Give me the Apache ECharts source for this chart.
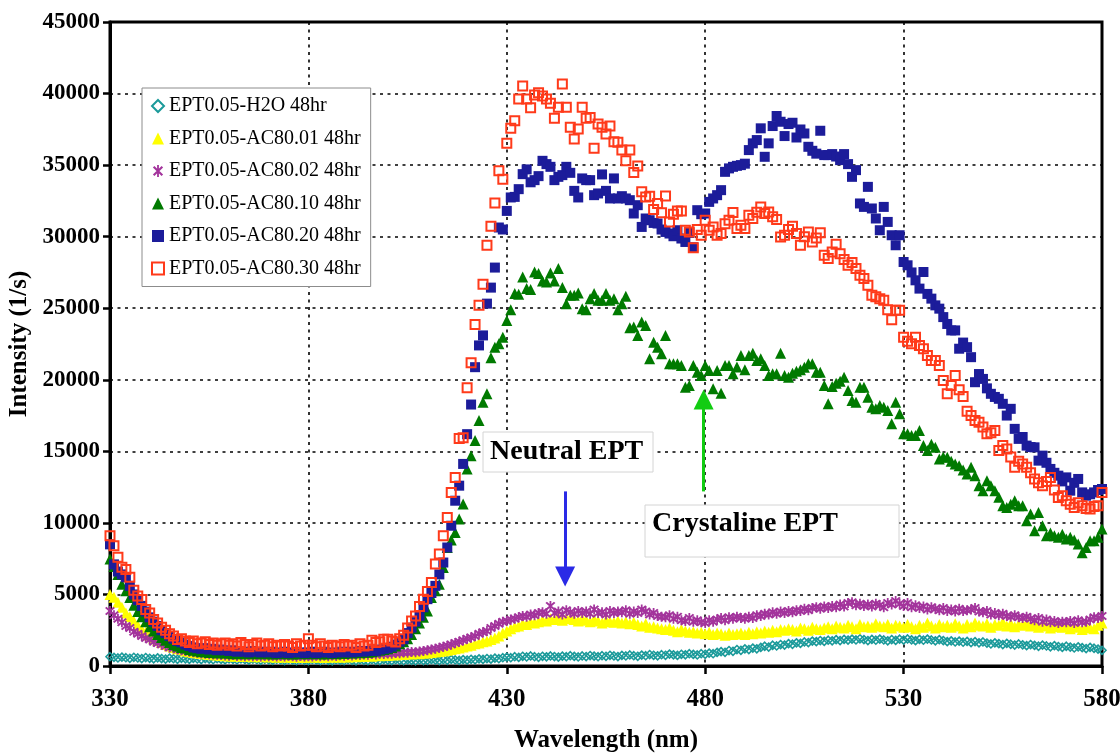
<!DOCTYPE html>
<html>
<head>
<meta charset="utf-8">
<script src="https://cdn.jsdelivr.net/npm/echarts@6/dist/echarts.min.js"></script>
<style>
  html, body { margin: 0; padding: 0; background: #fff; }
  #chart { width: 1120px; height: 754px; }
</style>
</head>
<body>
<div id="chart"></div>
<script>
// Emission spectra, sampled every 1 nm from 330 nm to 580 nm.
const WL_START = 330;
const WL_STEP = 1;

const seriesNames = [
  'EPT0.05-H2O 48hr',
  'EPT0.05-AC80.01 48hr',
  'EPT0.05-AC80.02 48hr',
  'EPT0.05-AC80.10 48hr',
  'EPT0.05-AC80.20 48hr',
  'EPT0.05-AC80.30 48hr'
];

const h2o = [
  650, 600, 560, 620, 580, 540, 610, 560, 520, 590,
  540, 500, 570, 520, 480, 550, 510, 470, 540, 500,
  460, 530, 490, 450, 520, 480, 440, 510, 470, 430,
  500, 460, 420, 490, 450, 410, 480, 440, 400, 470,
  430, 390, 460, 420, 380, 450, 410, 370, 440, 400,
  380, 450, 410, 370, 440, 400, 360, 430, 390, 370,
  440, 400, 360, 430, 390, 370, 440, 400, 380, 450,
  410, 380, 440, 400, 370, 430, 390, 360, 420, 380,
  400, 450, 410, 380, 440, 400, 460, 420, 390, 450,
  410, 470, 430, 500, 460, 520, 480, 550, 510, 580,
  620, 580, 650, 600, 680, 630, 700, 650, 610, 680,
  640, 700, 660, 620, 690, 650, 720, 670, 630, 700,
  660, 730, 690, 650, 720, 680, 750, 700, 660, 740,
  700, 770, 720, 680, 760, 720, 800, 750, 710, 790,
  750, 830, 780, 740, 820, 780, 860, 810, 770, 860,
  820, 900, 860, 950, 1000, 960, 1080, 1030, 1150, 1100,
  1200, 1150, 1250, 1200, 1300, 1380, 1320, 1450, 1400, 1500,
  1460, 1560, 1520, 1620, 1580, 1680, 1640, 1740, 1700, 1780,
  1720, 1800, 1760, 1840, 1780, 1860, 1810, 1880, 1820, 1900,
  1840, 1780, 1860, 1800, 1880, 1820, 1760, 1850, 1790, 1870,
  1810, 1890, 1830, 1770, 1860, 1800, 1880, 1820, 1760, 1840,
  1780, 1700, 1760, 1680, 1740, 1660, 1720, 1640, 1700, 1620,
  1680, 1600, 1540, 1620, 1560, 1500, 1580, 1520, 1460, 1540,
  1480, 1420, 1500, 1440, 1380, 1460, 1400, 1340, 1420, 1360,
  1300, 1380, 1320, 1260, 1340, 1280, 1220, 1300, 1240, 1180,
  1100
];

const ac01 = [
  5000, 4800, 4450, 4100, 3700, 3450, 3150, 2850, 2550, 2350,
  2150, 1950, 1800, 1650, 1500, 1400, 1300, 1200, 1150, 1050,
  1000, 950, 900, 870, 830, 800, 780, 760, 740, 720,
  700, 690, 720, 680, 660, 700, 650, 680, 640, 670,
  630, 660, 620, 650, 610, 640, 600, 630, 620, 600,
  640, 610, 650, 620, 600, 640, 610, 660, 620, 650,
  630, 680, 650, 700, 670, 720, 690, 740, 710, 760,
  740, 790, 770, 820, 800, 850, 830, 880, 860, 910,
  900, 950, 980, 1020, 1050, 1100, 1150, 1200, 1250, 1320,
  1400, 1450, 1550, 1600, 1700, 1750, 1850, 1950, 2100, 2300,
  2450, 2600, 2750, 2800, 2950, 2900, 3050, 3000, 3100, 3200,
  3150, 3300, 3250, 3400, 3200, 3300, 3350, 3250, 3150, 3300,
  3200, 3100, 3250, 3150, 3000, 3200, 3100, 3050, 3150, 3000,
  3100, 2950, 3050, 2900, 2800, 2950, 2700, 2750, 2650, 2600,
  2550, 2650, 2500, 2400, 2550, 2450, 2350, 2400, 2300, 2350,
  2250, 2350, 2200, 2300, 2250, 2150, 2300, 2200, 2250, 2300,
  2200, 2350, 2250, 2400, 2300, 2450, 2350, 2500, 2400, 2550,
  2500, 2600, 2550, 2450, 2650, 2600, 2500, 2700, 2600, 2550,
  2650, 2750, 2600, 2800, 2700, 2650, 2850, 2750, 2600, 2900,
  2750, 2800, 2700, 2950, 2800, 2750, 2900, 2650, 2850, 2800,
  2700, 2900, 2750, 2600, 2850, 2700, 3000, 2800, 2650, 2900,
  2750, 2850, 2700, 2950, 2800, 2650, 2900, 2750, 3000, 2850,
  2800, 2950, 2700, 2900, 2850, 3050, 2800, 2950, 2750, 2900,
  2850, 3000, 2800, 2950, 2700, 2900, 2800, 2650, 2850, 2750,
  2700, 2850, 2600, 2800, 2700, 2550, 2750, 2650, 2600, 2850,
  3000
];

const ac02 = [
  3850, 3550, 3300, 3050, 2800, 2650, 2400, 2250, 2100, 1950,
  1850, 1700, 1600, 1500, 1400, 1300, 1250, 1150, 1100, 1050,
  1000, 960, 920, 880, 850, 820, 800, 780, 760, 740,
  720, 760, 700, 740, 690, 730, 680, 720, 670, 710,
  680, 720, 670, 700, 660, 710, 680, 650, 700, 670,
  690, 660, 710, 680, 730, 690, 740, 700, 750, 720,
  770, 740, 790, 760, 810, 780, 840, 810, 860, 840,
  880, 860, 910, 890, 940, 920, 980, 960, 1010, 1050,
  1100, 1150, 1200, 1280, 1350, 1420, 1500, 1600, 1700, 1800,
  1900, 2000, 2100, 2250, 2350, 2450, 2650, 2800, 2950, 3100,
  3150, 3250, 3300, 3400, 3500, 3450, 3600, 3550, 3700, 3750,
  3650, 4200, 3700, 3800, 3600, 3900, 3750, 3650, 3850, 3700,
  3800, 3650, 3950, 3700, 3750, 3600, 3850, 3700, 3800, 3750,
  3900, 3650, 3800, 3700, 3950, 3800, 3600, 3700, 3500, 3450,
  3400, 3550, 3300, 3450, 3200, 3150, 3350, 3100, 3200, 3050,
  3000, 3200, 3100, 3250, 3350, 3200, 3400, 3300, 3450, 3350,
  3300, 3450, 3350, 3550, 3500, 3650, 3600, 3750, 3650, 3800,
  3700, 3850, 3750, 3900, 3850, 4000, 3900, 4050, 4100, 4000,
  4150, 4050, 4200, 4100, 4300, 4150, 4400, 4450, 4250, 4350,
  4200, 4300, 4150, 4350, 4250, 4100, 4400, 4300, 4550, 4350,
  4200, 4400, 4100, 4250, 4050, 4150, 3950, 4100, 4000, 3900,
  4050, 3850, 3950, 3800, 4000, 3850, 3900, 3950, 4050, 3800,
  3750, 3850, 3600, 3700, 3550, 3650, 3500, 3450, 3550, 3400,
  3350, 3450, 3300, 3200, 3350, 3100, 3250, 3050, 3150, 3000,
  3100, 3050, 3150, 3000, 3200, 3050, 3100, 3250, 3400, 3350,
  3500
];

const ac10 = [
  7470, 6950, 6400, 5720, 5250, 4780, 4250, 3800, 3450, 3100,
  2750, 2450, 2200, 2000, 1800, 1650, 1500, 1400, 1300, 1250,
  1150, 1100, 1050, 1000, 1000, 950, 950, 900, 950, 900,
  900, 850, 900, 850, 880, 850, 900, 850, 880, 850,
  870, 830, 880, 850, 900, 860, 830, 880, 850, 900,
  860, 900, 850, 880, 840, 900, 870, 850, 900, 880,
  920, 900, 950, 930, 980, 960, 1000, 1050, 1100, 1150,
  1200, 1300, 1400, 1550, 1700, 1900, 2200, 2600, 3000, 3400,
  3850, 4780, 5250, 5720, 6880, 8280, 8800, 9330, 10270, 11320,
  13770, 14700, 15750, 17150, 18430, 19020, 21540, 22280, 22520, 22980,
  24150, 24900, 26020, 25970, 27180, 26370, 26300, 27530, 27420, 26900,
  26830, 27460, 26900, 27770, 26440, 25320, 25900, 25900, 26060, 24970,
  24900, 25670, 26020, 25550, 25550, 26020, 25550, 25670, 24900, 25320,
  25830, 23640, 23680, 23100, 24030, 23800, 21470, 22630, 22280, 21820,
  23100, 21120, 21120, 21120, 21000, 19480, 19600, 21000, 20530, 20300,
  21000, 20650, 19370, 20650, 19060, 21000, 21000, 20420, 20900, 21700,
  20700, 21700, 21860, 21350, 21470, 21000, 20300, 20420, 20420, 21860,
  20300, 20180, 20460, 20600, 20700, 20880, 21120, 21120, 20530, 20530,
  19600, 18320, 19530, 19760, 19900, 20180, 19250, 18550, 18430, 19480,
  19480, 18780, 18080, 17970, 18200, 18080, 17850, 16920, 18430, 17620,
  16220, 16220, 16100, 16100, 16450, 15400, 15050, 15500, 15280, 14470,
  14600, 14580, 14300, 14120, 14000, 13700, 13420, 13880, 13300, 12600,
  12250, 12950, 12600, 12250, 11800, 11200, 11080, 11300, 11550, 11200,
  11200, 10150, 10620, 9450, 10730, 9800, 9100, 9300, 9100, 9000,
  9200, 8870, 9000, 8800, 8520, 7910, 8280, 8750, 8750, 9000,
  9570
];

const ac20 = [
  8500, 7100, 6600, 6400, 6200, 5600, 5000, 4600, 4200, 3800,
  3400, 3100, 2800, 2500, 2300, 2100, 1900, 1750, 1650, 1500,
  1400, 1300, 1250, 1200, 1250, 1150, 1200, 1100, 1150, 1100,
  1050, 1100, 1000, 1050, 1000, 950, 1050, 1000, 950, 1000,
  950, 1000, 900, 950, 1000, 900, 950, 1000, 950, 900,
  950, 1000, 900, 950, 1000, 950, 900, 950, 1000, 950,
  1000, 950, 1000, 1050, 1000, 1050, 1100, 1050, 1150, 1200,
  1250, 1350, 1500, 1700, 1870, 2300, 2680, 3100, 3500, 4100,
  4670, 5100, 5600, 6400, 7230, 8280, 9800, 11550, 12600, 14120,
  16200, 18270, 20880, 22400, 23100, 25320, 26440, 27840, 30640, 30500,
  31800, 32740, 32780, 33320, 34370, 34700, 33800, 33950, 34230, 35300,
  35070, 34880, 33950, 34180, 34300, 34880, 34460, 33200, 32740, 34070,
  33950, 33950, 32900, 33020, 34350, 33200, 32670, 34070, 32670, 32830,
  32670, 32550, 31620, 32200, 30680, 31270, 31150, 30960, 30920, 30500,
  30330, 30220, 30030, 30450, 29870, 29630, 30260, 29260, 31850, 31570,
  31620, 32430, 32670, 32900, 33250, 34530, 34770, 34880, 34950, 35000,
  35100, 36050, 36520, 36750, 37570, 35580, 36520, 37730, 38430, 38030,
  37030, 37870, 37960, 36930, 37490, 37210, 36280, 36000, 35800, 37400,
  35700, 35700, 35770, 35600, 35350, 35770, 35070, 34180, 34650, 32320,
  32080, 33480, 31970, 31270, 30450, 32080, 31030, 30100, 29400, 30100,
  28230, 28000, 27500, 26950, 26370, 27530, 26000, 25670, 25200, 24970,
  24380, 23900, 23450, 23450, 22170, 22600, 22280, 21580, 19830, 20400,
  20060, 19400, 19020, 18800, 18670, 18320, 17500, 17970, 16570, 15870,
  16000, 15400, 15300, 15280, 14350, 14700, 14200, 13770, 13500, 13300,
  12900, 13180, 12250, 12800, 13070, 12130, 11900, 12000, 12130, 12300,
  12370
];

const ac30 = [
  9100, 8400, 7600, 6900, 6750, 6200, 5300, 4900, 4650, 3950,
  3700, 3250, 3000, 2700, 2500, 2250, 2100, 1850, 1900, 1750,
  1650, 1750, 1550, 1600, 1700, 1500, 1600, 1450, 1550, 1600,
  1450, 1550, 1400, 1650, 1500, 1350, 1500, 1600, 1400, 1450,
  1550, 1350, 1450, 1400, 1500, 1400, 1300, 1550, 1400, 1450,
  1900, 1450, 1350, 1550, 1400, 1300, 1450, 1400, 1350, 1500,
  1400, 1450, 1300, 1550, 1400, 1450, 1800, 1650, 1700, 1870,
  1870, 1750, 1680, 1900, 2150, 2660, 3150, 3500, 4150, 4670,
  5200, 5830, 7120, 7820, 9100, 10380, 12130, 13180, 15900, 15950,
  19440, 21190, 23870, 25200, 26670, 29400, 30730, 32360, 34600, 34020,
  36520, 37570, 38100, 39620, 40530, 39620, 39010, 39900, 40060, 39830,
  39620, 39320, 38270, 39040, 40670, 39040, 37640, 36820, 37520, 39040,
  38270, 38330, 36170, 37870, 37640, 37170, 37730, 36630, 36590, 36050,
  35300, 36050, 34480, 34930, 33130, 32780, 32830, 31900, 32320, 31670,
  32850, 31030, 31570, 31800, 31800, 30450, 30330, 29230, 30500, 30100,
  31150, 30450, 30680, 30100, 30220, 30900, 31150, 31690, 30570, 30800,
  30570, 31500, 31270, 31700, 32080, 31620, 31730, 31400, 31200, 29980,
  30100, 30500, 30730, 30220, 29400, 30000, 30330, 29630, 29900, 30280,
  28700, 28470, 28930, 29470, 28800, 28400, 28000, 28200, 27770, 27300,
  27070, 26600, 25900, 25800, 25670, 25550, 24900, 24200, 24850, 24850,
  22980, 22700, 22520, 22980, 22400, 22170, 21700, 21350, 21350, 21000,
  19950, 19020, 19600, 20300, 19300, 18830, 17800, 17500, 17150, 17030,
  16700, 16220, 16300, 16450, 15050, 15400, 15170, 14600, 13880, 14300,
  14120, 13880, 13500, 13070, 12800, 12600, 12900, 13180, 12300, 11780,
  11900, 11550, 11300, 11080, 11400, 11200, 11000, 10970, 11150, 11200,
  12130
];

// Annotation arrows, in axis units: [wavelength, from intensity, to intensity]
const neutralArrow = [444.7, 12200, 6250];
const crystalArrow = [479.6, 12200, 18620];

const SERIF = '"Liberation Serif", "Times New Roman", serif';

// six-armed asterisk marker
const ASTERISK = 'path://M8.5,0L11.5,0L11.5,20L8.5,20Z M1.5,4L4,1.5L18.5,16L16,18.5Z M16,1.5L18.5,4L4,18.5L1.5,16Z';

function toPairs(values) {
  return values.map((v, i) => [WL_START + i * WL_STEP, v]);
}

function scatter(name, values, symbol, size, itemStyle) {
  return {
    name: name,
    type: 'scatter',
    data: toPairs(values),
    symbol: symbol,
    symbolSize: size,
    itemStyle: Object.assign({ opacity: 1 }, itemStyle),
    silent: true
  };
}

function arrowSeries(spec, color) {
  return {
    type: 'scatter',
    name: '_arrow_' + color,
    data: [],
    silent: true,
    markLine: {
      silent: true,
      animation: false,
      symbol: ['none', 'triangle'],
      symbolSize: [20, 20],
      label: { show: false },
      lineStyle: { color: color, width: 3, type: 'solid', opacity: 1 },
      emphasis: { disabled: true },
      data: [[{ coord: [spec[0], spec[1]] }, { coord: [spec[0], spec[2]] }]]
    }
  };
}

const chart = echarts.init(document.getElementById('chart'), null, { renderer: 'canvas' });

chart.setOption({
  animation: false,
  backgroundColor: '#fff',
  grid: {
    left: 110, right: 18, top: 22, bottom: 88,
    outerBoundsMode: 'none',
    containLabel: false,
    show: true, borderColor: '#000', borderWidth: 3, backgroundColor: 'transparent'
  },
  xAxis: {
    type: 'value',
    min: 330, max: 580, interval: 50,
    name: 'Wavelength (nm)',
    nameLocation: 'middle',
    nameGap: 62,
    nameTextStyle: { fontFamily: SERIF, fontWeight: 'bold', fontSize: 25, color: '#000' },
    axisLine: { show: true, onZero: false, lineStyle: { color: '#000', width: 3 } },
    axisTick: { show: true, inside: false, length: 8, lineStyle: { color: '#000', width: 2.5 } },
    axisLabel: { fontFamily: SERIF, fontWeight: 'bold', fontSize: 25, color: '#000', margin: 21,
                 formatter: (v) => String(v) },
    splitLine: { show: true, lineStyle: { color: '#000', type: [3, 4.5], width: 1.6 } }
  },
  yAxis: {
    type: 'value',
    min: 0, max: 45000, interval: 5000,
    name: 'Intensity (1/s)',
    nameLocation: 'middle',
    nameRotate: 90,
    nameGap: 72,
    nameTextStyle: { fontFamily: SERIF, fontWeight: 'bold', fontSize: 25, color: '#000' },
    axisLine: { show: true, onZero: false, lineStyle: { color: '#000', width: 3 } },
    axisTick: { show: true, inside: false, length: 7, lineStyle: { color: '#000', width: 2.5 } },
    axisLabel: { fontFamily: SERIF, fontWeight: 'bold', fontSize: 23, color: '#000', margin: 10,
                 formatter: (v) => String(v) },
    splitLine: { show: true, lineStyle: { color: '#000', type: [3, 4.5], width: 1.6 } }
  },
  legend: {
    data: seriesNames,
    orient: 'vertical',
    left: 142, top: 88,
    padding: [8, 10, 8, 9],
    itemGap: 12.5,
    itemWidth: 12, itemHeight: 12,
    backgroundColor: '#fff',
    borderColor: '#8c8c8c', borderWidth: 1, borderRadius: 0,
    textStyle: { fontFamily: SERIF, fontSize: 20, color: '#000', lineHeight: 20 },
    selectedMode: false,
    z: 20
  },
  series: [
    scatter(seriesNames[0], h2o, 'diamond', 8,
      { color: 'rgba(0,0,0,0)', borderColor: '#1b9a9a', borderWidth: 1.6 }),
    scatter(seriesNames[1], ac01, 'triangle', 11,
      { color: '#ffff00' }),
    scatter(seriesNames[2], ac02, ASTERISK, 10,
      { color: '#a3349c' }),
    scatter(seriesNames[3], ac10, 'triangle', 11,
      { color: '#007a00' }),
    scatter(seriesNames[4], ac20, 'rect', 10,
      { color: '#1c1c9a' }),
    scatter(seriesNames[5], ac30, 'rect', 9,
      { color: 'rgba(0,0,0,0)', borderColor: '#ff3a1a', borderWidth: 2 }),
    arrowSeries(neutralArrow, '#2a2ae6'),
    arrowSeries(crystalArrow, '#12cc12')
  ],
  graphic: [
    { type: 'rect', z: 100, shape: { x: 483, y: 432, width: 170, height: 40 },
      style: { fill: '#fff', stroke: '#d4d4d4', lineWidth: 1 } },
    { type: 'text', z: 101, x: 490, y: 452,
      style: { text: 'Neutral EPT', fontFamily: SERIF, fontWeight: 'bold', fontSize: 28,
               fill: '#000', verticalAlign: 'middle', align: 'left' } },
    { type: 'rect', z: 100, shape: { x: 645, y: 505, width: 254, height: 52 },
      style: { fill: '#fff', stroke: '#d4d4d4', lineWidth: 1 } },
    { type: 'text', z: 101, x: 652, y: 524,
      style: { text: 'Crystaline EPT', fontFamily: SERIF, fontWeight: 'bold', fontSize: 28,
               fill: '#000', verticalAlign: 'middle', align: 'left' } }
  ]
});
</script>
</body>
</html>
